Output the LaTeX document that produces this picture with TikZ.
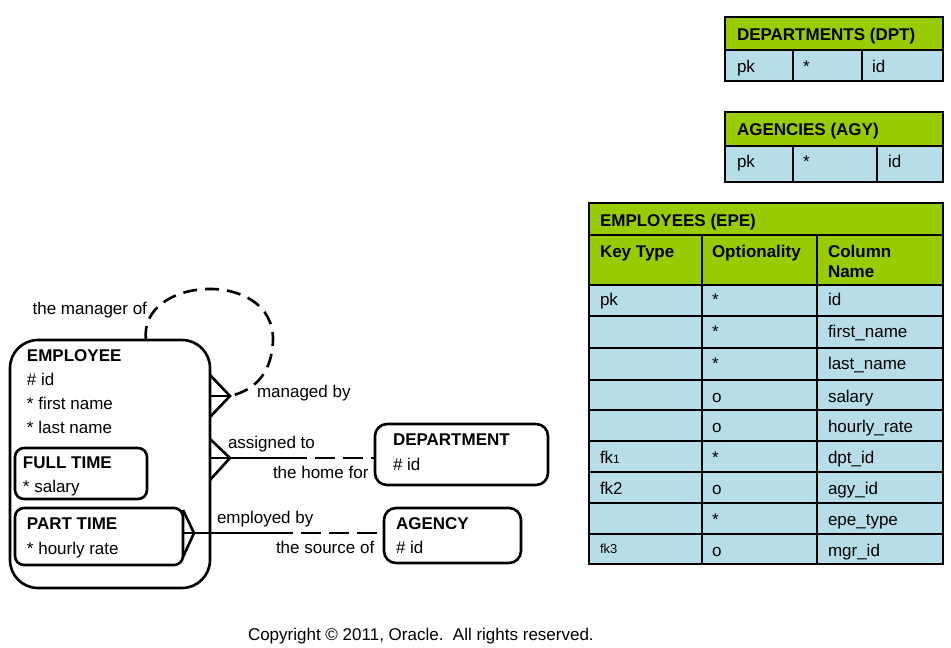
\documentclass[tikz,border=0pt]{standalone}
\usepackage{fontspec}
\setmainfont{Liberation Sans}
\definecolor{hdrgreen}{RGB}{153,204,0}
\definecolor{rowblue}{RGB}{183,222,232}
\begin{document}
\begin{tikzpicture}[x=1pt,y=-1pt,
  every node/.style={font=\fontsize{17}{20}\selectfont, inner sep=0pt, outer sep=0pt},
  txt/.style={anchor=base west},
  btxt/.style={anchor=base west, font=\fontsize{17}{20}\selectfont\bfseries},
  entity/.style={draw, line width=2.6pt, anchor=north west},
  rel/.style={line width=2.6pt, line cap=butt, line join=miter},
  reldash/.style={rel, dash pattern=on 14pt off 8pt},
  relstraightdash/.style={rel, dash pattern=on 20pt off 8pt, dash phase=20pt},
  tabouter/.style={line width=2.4pt},
  tabinner/.style={line width=1.3pt}]
\useasboundingbox (0,0) rectangle (951,648);

% ---------------- ER diagram ----------------
\node[entity, rounded corners=28pt, minimum width=200pt, minimum height=248pt] (emp) at (10,340) {};
\node[entity, rounded corners=9pt, minimum width=132pt, minimum height=51pt] (ft) at (15,448) {};
\node[entity, rounded corners=9pt, minimum width=168pt, minimum height=57pt] (pt) at (15,508) {};
\node[entity, rounded corners=12pt, minimum width=173pt, minimum height=61pt] (dept) at (375,424) {};
\node[entity, rounded corners=12pt, minimum width=137pt, minimum height=55pt] (agy) at (384,508) {};

\node[btxt] (empT) at (27,361) {EMPLOYEE};
\node[txt] (empA1) at (27,385) {\# id};
\node[txt] (empA2) at (27,409) {* first name};
\node[txt] (empA3) at (27,433) {* last name};
\node[btxt] (ftT) at (23,468) {FULL TIME};
\node[txt] (ftA1) at (23,492) {* salary};
\node[btxt] (ptT) at (27,529) {PART TIME};
\node[txt] (ptA1) at (27,554) {* hourly rate};
\node[btxt] (deptT) at (393,445) {DEPARTMENT};
\node[txt] (deptA1) at (393,470) {\# id};
\node[btxt] (agyT) at (396,529) {AGENCY};
\node[txt] (agyA1) at (396,553) {\# id};

% managed by (recursive)
\coordinate (mgrfork) at (230,396);
\draw[rel] (emp.east |- 0,375) -- (mgrfork) -- (emp.east |- 0,417);
\draw[rel] (emp.east |- mgrfork) -- (mgrfork);
\draw[reldash] (emp.north -| 146,0) .. controls (138,276) and (274,268) .. (273,340)
   .. controls (272,372) and (256,390) .. (mgrfork);
\node[anchor=base east] (lmgrof) at (147,314) {the manager of};
\node[txt] (lmgdby) at (257,397) {managed by};

% assigned to / the home for
\coordinate (asgfork) at (230,458);
\coordinate (asgmid) at (307,458);
\draw[rel] (emp.east |- 0,439) -- (asgfork) -- (emp.east |- 0,480);
\draw[rel] (emp.east |- asgfork) -- (asgmid);
\draw[relstraightdash] (asgmid) -- (dept.west |- asgfork);
\node[txt] (lasg) at (228,448) {assigned to};
\node[txt] (lhome) at (273,478) {the home for};

% employed by / the source of
\coordinate (empfork) at (194,533);
\coordinate (empmid) at (293,533);
\draw[rel] (pt.east |- 0,510) -- (empfork) -- (pt.east |- 0,557);
\draw[rel] (pt.east |- empfork) -- (empmid);
\draw[relstraightdash] (empmid) -- (agy.west |- empfork);
\node[txt] (lempby) at (217,523) {employed by};
\node[txt] (lsrc) at (276,553) {the source of};

% ---------------- DEPARTMENTS table ----------------
\fill[hdrgreen] (725,17) rectangle (943,50);
\fill[rowblue] (725,50) rectangle (943,81);
\draw[tabinner] (725,50) -- (943,50) (793,50) -- (793,81) (862,50) -- (862,81);
\draw[tabouter] (725,17) rectangle (943,81);
\node[btxt] (dptT) at (737,40) {DEPARTMENTS (DPT)};
\node[txt] (dpt1) at (737,72) {pk};
\node[txt] (dpt2) at (803,72) {*};
\node[txt] (dpt3) at (872,72) {id};

% ---------------- AGENCIES table ----------------
\fill[hdrgreen] (725,112) rectangle (943,146);
\fill[rowblue] (725,146) rectangle (943,182);
\draw[tabinner] (725,146) -- (943,146) (793,146) -- (793,182) (877,146) -- (877,182);
\draw[tabouter] (725,112) rectangle (943,182);
\node[btxt] (agyTT) at (737,135) {AGENCIES (AGY)};
\node[txt] (agy1) at (737,167) {pk};
\node[txt] (agy2) at (803,167) {*};
\node[txt] (agy3) at (888,167) {id};

% ---------------- EMPLOYEES table ----------------
\fill[hdrgreen] (589,203) rectangle (943,285);
\fill[rowblue] (589,285) rectangle (943,564);
\draw[tabinner] (589,235) -- (943,235) (702,235) -- (702,564) (817,235) -- (817,564);
\foreach \yy in {285,316,348,380,410,441,472,503,534}
  \draw[tabinner] (589,\yy) -- (943,\yy);
\draw[tabouter] (589,203) rectangle (943,564);
\node[btxt] (epeT) at (600,226) {EMPLOYEES (EPE)};
\node[btxt] (h1) at (600,257) {Key Type};
\node[btxt] (h2) at (712,257) {Optionality};
\node[btxt] (h3) at (828,257) {Column};
\node[btxt] (h3b) at (828,277) {Name};

\node[txt] (r1a) at (600,305) {pk};
\node[txt] (r1b) at (712,305) {*};
\node[txt] (r1c) at (828,305) {id};
\node[txt] (r2b) at (712,337) {*};
\node[txt] (r2c) at (828,337) {first\_name};
\node[txt] (r3b) at (712,369) {*};
\node[txt] (r3c) at (828,369) {last\_name};
\node[txt] (r4b) at (712,402) {o};
\node[txt] (r4c) at (828,402) {salary};
\node[txt] (r5b) at (712,432) {o};
\node[txt] (r5c) at (828,432) {hourly\_rate};
\node[txt] (r6a) at (600,463) {fk{\fontsize{12}{14}\selectfont 1}};
\node[txt] (r6b) at (712,463) {*};
\node[txt] (r6c) at (828,463) {dpt\_id};
\node[txt] (r7a) at (600,494) {fk2};
\node[txt] (r7b) at (712,494) {o};
\node[txt] (r7c) at (828,494) {agy\_id};
\node[txt] (r8b) at (712,525) {*};
\node[txt] (r8c) at (828,525) {epe\_type};
\node[txt, font=\fontsize{13}{15}\selectfont] (r9a) at (600,553) {fk3};
\node[txt] (r9b) at (712,556) {o};
\node[txt] (r9c) at (828,556) {mgr\_id};

% ---------------- copyright ----------------
\node[txt] (copy) at (248,640) {Copyright © 2011, Oracle.\ \ All rights reserved.};
\end{tikzpicture}
\end{document}
